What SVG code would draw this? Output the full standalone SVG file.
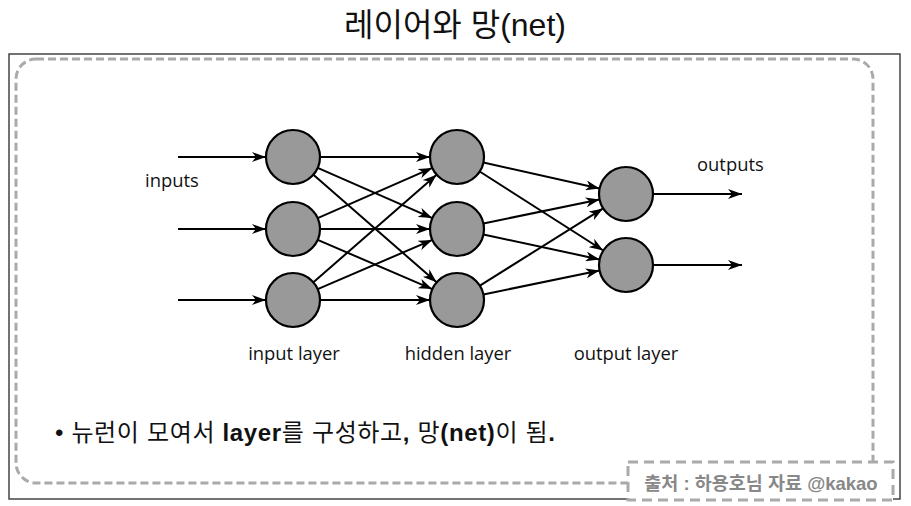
<svg xmlns="http://www.w3.org/2000/svg" width="911" height="506" viewBox="0 0 911 506">
<defs>
<style>
.node{fill:#999;stroke:#000;stroke-width:2.2}
.edge{stroke:#000;stroke-width:2;fill:none;marker-end:url(#ah)}
.lbl{font-family:"Open Sans","Liberation Sans",sans-serif;font-size:18.4px;fill:#111}
.kr{font-family:"Liberation Sans","Noto Sans CJK KR",sans-serif}
</style>
<marker id="ah" markerUnits="userSpaceOnUse" markerWidth="14" markerHeight="10" refX="14" refY="5" orient="auto">
<path d="M0,0 L14,5 L0,10 L4,5 z" fill="#000"/>
</marker>
</defs>
<rect width="911" height="506" fill="#fff"/>
<text x="455" y="36" text-anchor="middle" class="kr" font-size="32" fill="#111">레이어와 망(net)</text>
<rect x="9" y="54" width="891" height="445" fill="none" stroke="#444" stroke-width="1.5"/>
<rect x="16" y="59" width="857" height="424" rx="20" ry="20" fill="none" stroke="#aaa" stroke-width="3" stroke-dasharray="8,4"/>
<g id="connectors">
<line class="edge" x1="178" y1="157" x2="266" y2="157"/>
<line class="edge" x1="178" y1="229" x2="266" y2="229"/>
<line class="edge" x1="178" y1="300" x2="266" y2="300"/>
<line class="edge" x1="320" y1="157" x2="430" y2="157"/>
<line class="edge" x1="317.7" y1="167.9" x2="432.3" y2="218.1"/>
<line class="edge" x1="313.4" y1="174.7" x2="436.6" y2="282.3"/>
<line class="edge" x1="317.7" y1="218.1" x2="432.3" y2="167.9"/>
<line class="edge" x1="320" y1="229" x2="430" y2="229"/>
<line class="edge" x1="317.7" y1="239.9" x2="432.3" y2="289.1"/>
<line class="edge" x1="313.4" y1="282.3" x2="436.6" y2="174.7"/>
<line class="edge" x1="317.7" y1="289.1" x2="432.3" y2="239.9"/>
<line class="edge" x1="320" y1="300" x2="430" y2="300"/>
<line class="edge" x1="483.4" y1="162.6" x2="599.6" y2="188.4"/>
<line class="edge" x1="479.7" y1="171.5" x2="603.3" y2="250.5"/>
<line class="edge" x1="483.4" y1="223.4" x2="599.6" y2="199.6"/>
<line class="edge" x1="483.4" y1="234.6" x2="599.6" y2="259.4"/>
<line class="edge" x1="479.9" y1="285.6" x2="603.1" y2="208.4"/>
<line class="edge" x1="483.4" y1="294.4" x2="599.6" y2="270.6"/>
<line class="edge" x1="653" y1="194" x2="742" y2="194"/>
<line class="edge" x1="653" y1="265" x2="742" y2="265"/>
</g>
<g id="i0"><circle class="node" cx="293" cy="157" r="27"/></g>
<g id="i1"><circle class="node" cx="293" cy="229" r="27"/></g>
<g id="i2"><circle class="node" cx="293" cy="300" r="27"/></g>
<g id="h0"><circle class="node" cx="457" cy="157" r="27"/></g>
<g id="h1"><circle class="node" cx="457" cy="229" r="27"/></g>
<g id="h2"><circle class="node" cx="457" cy="300" r="27"/></g>
<g id="o0"><circle class="node" cx="626" cy="194" r="27"/></g>
<g id="o1"><circle class="node" cx="626" cy="265" r="27"/></g>
<text class="lbl" x="145" y="187">inputs</text>
<text class="lbl" x="697" y="171">outputs</text>
<text class="lbl" x="294" y="360" text-anchor="middle">input layer</text>
<text class="lbl" x="458" y="360" text-anchor="middle">hidden layer</text>
<text class="lbl" x="626" y="360" text-anchor="middle">output layer</text>
<text x="55" y="441" class="kr" font-size="24" fill="#111" textLength="500" lengthAdjust="spacing">• 뉴런이 모여서 <tspan font-weight="bold">layer</tspan>를 구성하고<tspan font-weight="bold">,</tspan> 망<tspan font-weight="bold">(net)</tspan>이 됨<tspan font-weight="bold">.</tspan></text>
<g id="credit">
<rect x="628" y="462" width="265" height="38" fill="#fff" stroke="#aaa" stroke-width="3" stroke-dasharray="10,6"/>
<text x="761" y="490" text-anchor="middle" class="kr" font-size="18.5" font-weight="bold" fill="#888">출처 : 하용호님 자료 @kakao</text>
</g>
</svg>
